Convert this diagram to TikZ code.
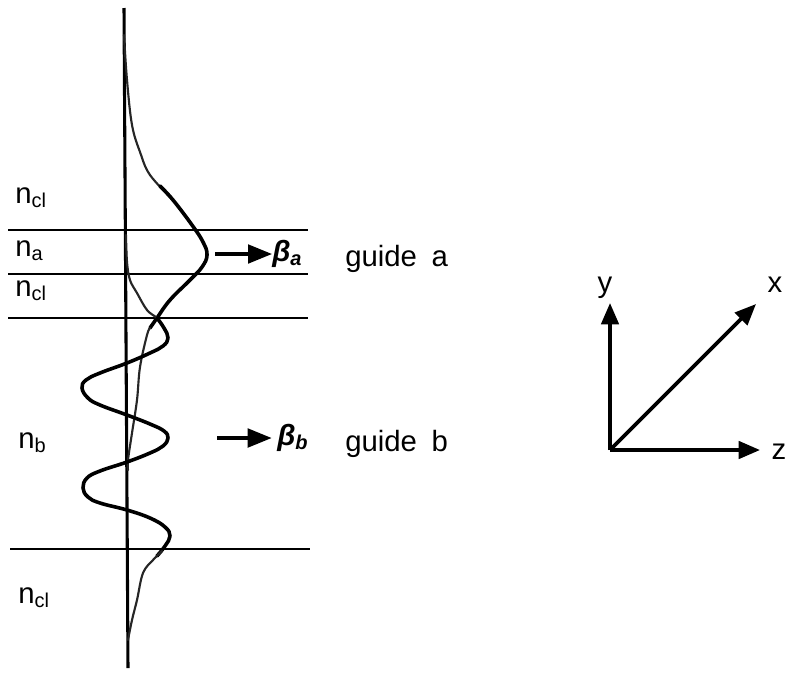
\documentclass[tikz,border=0pt]{standalone}
\usepackage{fontspec}
\setmainfont{Liberation Sans}
\usetikzlibrary{arrows.meta}
\tikzset{
  lbl/.style={anchor=base west, inner sep=0pt, font=\fontsize{22}{26}\selectfont},
  layer/.style={line width=1.9pt},
  field/.style={line width=2.7pt, line join=round, line cap=round},
  tail/.style={line width=1.6pt, black!85, line cap=round},
  prop/.style={line width=2.3pt, -{Triangle[length=18pt,width=14pt]}},
  axisarrow/.style={line width=2.7pt, -{Triangle[length=16pt,width=13pt]}}
}
\newcommand{\sub}[1]{\raisebox{-0.32ex}{\fontsize{15}{17}\selectfont #1}}
\begin{document}
\begin{tikzpicture}[x=0.75pt,y=-0.75pt]
\useasboundingbox (0,0) rectangle (787,672);
% layer boundaries
\coordinate (l1a) at (8,230);  \coordinate (l1b) at (308,230);
\coordinate (l2a) at (8,274);  \coordinate (l2b) at (308,274);
\coordinate (l3a) at (8,318);  \coordinate (l3b) at (308,318);
\coordinate (l4a) at (10,549); \coordinate (l4b) at (310,549);
\draw[layer] (l1a) -- (l1b);
\draw[layer] (l2a) -- (l2b);
\draw[layer] (l3a) -- (l3b);
\draw[layer] (l4a) -- (l4b);
% vertical axis
\coordinate (vtop) at (124,8);
\coordinate (vbot) at (128,668);
\draw[line width=2.3pt] (vtop) -- (vbot);
% guide a field
\draw[tail] plot[smooth, tension=0.6] coordinates {(124,35) (127,80) (132,125) (140,152) (150,175) (173,200)};
\draw[field] plot[smooth, tension=0.7] coordinates {(160,186) (173,200) (192,225) (203,242) (207,255) (202,267) (190,280) (170,300) (157,318) (150,328)};
\draw[tail] plot[smooth, tension=0.6] coordinates {(150,328) (147,335) (140,367) (137,400) (132,433) (128,460) (128,470)};
% guide b field
\draw[tail] plot[smooth, tension=0.6] coordinates {(126,235) (127,262) (130,280) (137,293) (147,310) (157,318) (162,325)};
\draw[field] plot[smooth, tension=0.7] coordinates {(157,318) (164,328) (168,338) (163,346) (150,353) (127,363) (100,373) (86,380) (82,388) (88,398) (100,405) (127,415) (150,424) (164,431) (168,438) (163,446) (150,453) (127,462) (100,471) (87,478) (83,488) (88,497) (100,503) (127,510) (150,518) (165,527) (170,536) (165,546) (157,556)};
\draw[tail] plot[smooth, tension=0.6] coordinates {(162,551) (153,560) (143,573) (137,600) (132,620) (128,640)};
% labels
\node[lbl] (ncl1) at (15,203) {n\sub{cl}};
\node[lbl] (na) at (15,256) {n\sub{a}};
\node[lbl] (ncl2) at (15,296) {n\sub{cl}};
\node[lbl] (nb) at (18,448) {n\sub{b}};
\node[lbl] (ncl3) at (18,603) {n\sub{cl}};
% propagation arrows
\coordinate (pa0) at (215,254);
\node[lbl] (betaa) at (272,261) {\bfseries\itshape β\sub{a}};
\draw[prop] (pa0) -- (betaa.base west |- pa0);
\coordinate (pb0) at (217,438);
\node[lbl] (betab) at (277,445) {\bfseries\itshape β\sub{b}};
\draw[prop] (pb0) -- ([xshift=-4pt]betab.base west |- pb0);
\node[lbl] (ga) at (345,266) {guide\hspace{0.5em}a};
\node[lbl] (gb) at (345,451) {guide\hspace{0.5em}b};
% coordinate axes
\coordinate (o) at (610,450);
\coordinate (ytip) at (610,303);
\coordinate (ztip) at (760,450);
\coordinate (xtip) at (756,304);
\draw[axisarrow] (o) -- (ytip);
\draw[axisarrow] (o) -- (ztip);
\draw[axisarrow] (o) -- (xtip);
\node[lbl, anchor=base] (ylab) at (605,292) {y};
\node[lbl, anchor=base] (xlab) at (775,292) {x};
\node[lbl, anchor=base] (zlab) at (779,459) {z};
\end{tikzpicture}
\end{document}
